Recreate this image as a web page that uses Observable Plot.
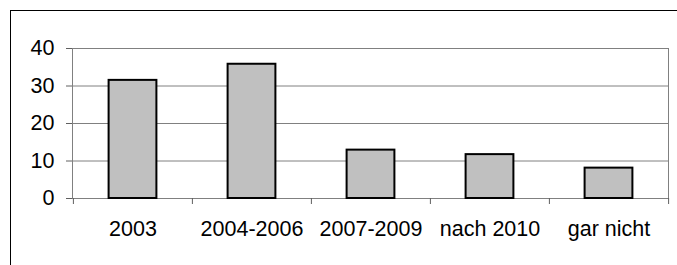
<!DOCTYPE html>
<html>
<head>
<meta charset="utf-8">
<script src="https://cdn.jsdelivr.net/npm/d3@7"></script>
<script src="https://cdn.jsdelivr.net/npm/@observablehq/plot@0.6"></script>
<style>
  html, body { margin: 0; padding: 0; background: #fff; }
  #chart svg { display: block; }
</style>
</head>
<body>
<div id="chart"></div>
<script>
const categories = ["2003", "2004-2006", "2007-2009", "nach 2010", "gar nicht"];
const values = [31.5, 35.8, 12.9, 11.7, 8.1];
const yTicks = [0, 10, 20, 30, 40];

const data = categories.map((c, i) => ({category: c, value: values[i]}));

const W = 677, H = 265;
const mL = 72, mR = 9, mT = 48, mB = 67;
const step = (W - mL - mR) / categories.length;
const barW = 48;
const inset = (step - barW) / 2;
const font = "Liberation Sans, Arial, sans-serif";
const fs = 21.5;

const chart = Plot.plot({
  width: W,
  height: H,
  marginLeft: mL,
  marginRight: mR,
  marginTop: mT,
  marginBottom: mB,
  style: {fontFamily: font, fontSize: fs + "px", color: "#000", background: "#fff", overflow: "hidden"},
  x: {type: "band", domain: categories, padding: 0, align: 0.5},
  y: {domain: [0, 40]},
  marks: [
    Plot.frame({stroke: "#000", strokeWidth: 1, insetLeft: 10 - mL, insetTop: 10 - mT, insetRight: -40, insetBottom: -100}),
    Plot.gridY(yTicks.filter(d => d > 0), {stroke: "#808080", strokeOpacity: 1, strokeWidth: 1}),
    Plot.frame({stroke: "#808080", strokeWidth: 1}),
    Plot.axisY(yTicks, {tickSize: 6, tickPadding: 12, stroke: "#606060", fontSize: fs, fill: "#000", label: null}),
    Plot.axisX({ticks: categories, text: null, tickSize: 6, dx: -step / 2, stroke: "#606060", label: null}),
    Plot.axisX({ticks: categories.slice(-1), text: null, tickSize: 6, dx: step / 2, stroke: "#606060", label: null}),
    Plot.axisX({ticks: categories, tickSize: 0, tickPadding: 22, fontSize: fs, fill: "#000", label: null}),
    Plot.barY(data, {x: "category", y: "value", fill: "#c0c0c0", stroke: "#000", strokeWidth: 2, insetLeft: inset, insetRight: inset})
  ]
});
document.getElementById("chart").appendChild(chart);
</script>
</body>
</html>
